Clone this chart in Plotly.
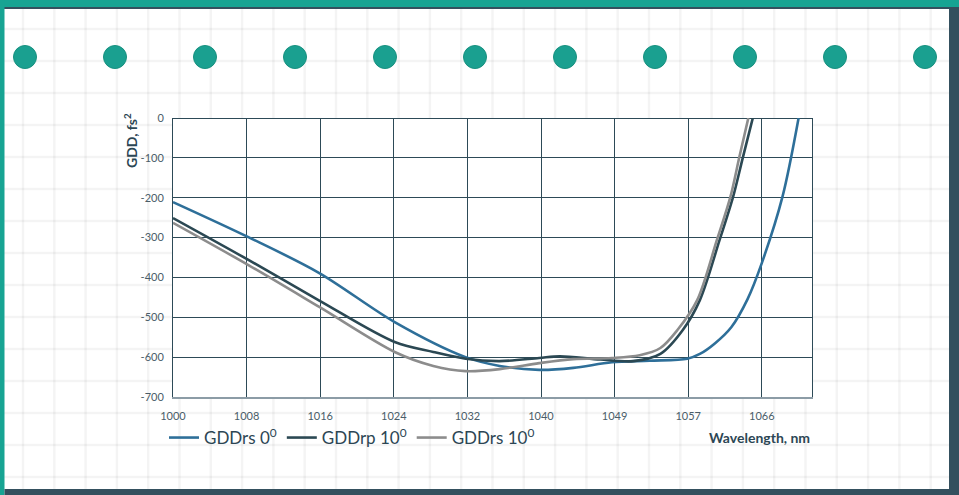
import plotly.graph_objects as go

# GDD curves, wavelength in nm vs GDD in fs^2
wl_rs0 = [1000.0, 1008.4, 1016.3, 1024.7, 1032.6, 1036.4, 1040.8, 1044.6, 1048.9,
          1053.1, 1057.3, 1058.7, 1060.4, 1062.2, 1064.0, 1065.6, 1067.9, 1069.7]
gdd_rs0 = [-211, -299, -389, -512, -600, -622, -632, -627, -613,
           -609, -604, -592, -565, -525, -455, -364, -198, 0]

wl_rp10 = [1000.0, 1008.4, 1016.3, 1024.7, 1029.0, 1032.6, 1036.4, 1040.8, 1043.1,
           1047.6, 1051.3, 1054.3, 1056.8, 1058.7, 1060.9, 1062.4, 1063.5, 1064.6]
gdd_rp10 = [-251, -356, -458, -562, -587, -604, -610, -602, -598,
            -606, -610, -592, -532, -457, -306, -198, -98, 0]

wl_rs10 = [1000.0, 1008.4, 1016.3, 1024.7, 1029.0, 1032.6, 1036.4, 1040.8, 1044.6,
           1048.9, 1052.0, 1054.3, 1056.2, 1058.4, 1060.6, 1062.1, 1063.1, 1064.1]
gdd_rs10 = [-263, -369, -474, -587, -622, -635, -630, -615, -605,
            -602, -595, -577, -532, -457, -306, -198, -98, 0]

series_names = ["GDDrs 0<sup>0</sup>", "GDDrp 10<sup>0</sup>", "GDDrs 10<sup>0</sup>"]
series_colors = ["#2e6f99", "#2b4853", "#8c8c8c"]

# Evenly spaced wavelength ticks with their printed labels
x_tick_step = 8.2
x_tick_labels = ["1000", "1008", "1016", "1024", "1032", "1040", "1049", "1057", "1066"]
y_tick_vals = [0, -100, -200, -300, -400, -500, -600, -700]

W, H = 959, 495
L, R, T, B = 173, 812, 118, 397  # plot area in pixels


def px(x):
    return (x - L) / (R - L)


def py(y):
    return (B - y) / (B - T)


fig = go.Figure()
for xs, ys, name, col in zip([wl_rs0, wl_rp10, wl_rs10], [gdd_rs0, gdd_rp10, gdd_rs10],
                             series_names, series_colors):
    fig.add_trace(go.Scatter(x=xs, y=ys, name=name, mode="lines",
                             line=dict(color=col, width=2.6, shape="spline", smoothing=0.9)))

shapes = []
# graph-paper backdrop
grid_paper = "rgba(0,0,0,0.045)"
gx = 23.0
while gx < W:
    shapes.append(dict(type="line", xref="paper", yref="paper", x0=px(gx), x1=px(gx),
                       y0=py(0), y1=py(H), line=dict(color=grid_paper, width=2.5),
                       layer="below"))
    gx += 31.3
gy = 29.0
while gy < H:
    shapes.append(dict(type="line", xref="paper", yref="paper", x0=px(0), x1=px(W),
                       y0=py(gy), y1=py(gy), line=dict(color=grid_paper, width=2.5),
                       layer="below"))
    gy += 32.0
# white plot area
shapes.append(dict(type="rect", xref="paper", yref="paper", x0=0, x1=1, y0=0, y1=1,
                   fillcolor="white", line=dict(width=0), layer="below"))
# frame bands
teal = "#17a493"
dark = "#34505e"
shapes += [
    dict(type="rect", xref="paper", yref="paper", x0=px(0), x1=px(W), y0=py(0), y1=py(7),
         fillcolor=teal, line=dict(width=0), layer="above"),
    dict(type="rect", xref="paper", yref="paper", x0=px(4), x1=px(W), y0=py(7), y1=py(9),
         fillcolor=dark, line=dict(width=0), layer="above"),
    dict(type="rect", xref="paper", yref="paper", x0=px(0), x1=px(4.5), y0=py(0), y1=py(H),
         fillcolor=teal, line=dict(width=0), layer="above"),
    dict(type="rect", xref="paper", yref="paper", x0=px(949), x1=px(W), y0=py(7), y1=py(H),
         fillcolor=dark, line=dict(width=0), layer="above"),
    dict(type="rect", xref="paper", yref="paper", x0=px(4.5), x1=px(W), y0=py(489), y1=py(H),
         fillcolor=dark, line=dict(width=0), layer="above"),
]
# row of dots
for cx in range(25, 940, 90):
    shapes.append(dict(type="circle", xref="paper", yref="paper",
                       x0=px(cx - 11.5), x1=px(cx + 11.5), y0=py(57 - 11.5), y1=py(57 + 11.5),
                       fillcolor="#1aa090", line=dict(color="#17907f", width=1), layer="above"))

text_col = "#4a5d69"
title_col = "#2c4654"

annotations = [
    dict(text="<b>GDD, fs<sup>2</sup></b>", xref="paper", yref="paper", x=px(130), y=py(141),
         textangle=-90, showarrow=False, xanchor="center", yanchor="middle",
         font=dict(family="Lato", size=14, color=title_col)),
    dict(text="<b>Wavelength, nm</b>", xref="paper", yref="paper", x=1.0, y=py(437),
         showarrow=False, xanchor="right", yanchor="middle",
         font=dict(family="Lato", size=14, color=title_col)),
]

grid_col = "#2d4a57"
fig.update_layout(
    width=W, height=H,
    margin=dict(l=L, r=W - R, t=T, b=H - B, pad=0),
    paper_bgcolor="white", plot_bgcolor="rgba(0,0,0,0)",
    font=dict(family="Lato", color=text_col),
    shapes=shapes, annotations=annotations,
    showlegend=True,
    legend=dict(orientation="h", x=px(164), y=py(438), xanchor="left", yanchor="middle",
                bgcolor="rgba(0,0,0,0)", font=dict(family="Lato", size=17, color=title_col),
                itemwidth=30, traceorder="normal"),
    xaxis=dict(range=[1000, 1000 + x_tick_step * (R - L) / 73.6],
               tickvals=[1000 + x_tick_step * i for i in range(len(x_tick_labels))],
               ticktext=x_tick_labels, showgrid=True, gridcolor=grid_col, gridwidth=1,
               showline=True, linecolor="#8c9ca6", linewidth=2, mirror=False,
               zeroline=False, ticks="", ticklabelstandoff=8,
               tickfont=dict(family="Lato", size=11, color=text_col)),
    yaxis=dict(range=[-700, 0], tickvals=y_tick_vals,
               ticktext=[str(v) for v in y_tick_vals],
               showgrid=True, gridcolor=grid_col, gridwidth=1,
               showline=True, linecolor=grid_col, linewidth=1, mirror=True,
               zeroline=True, zerolinecolor=grid_col, zerolinewidth=1,
               ticks="", ticklabelstandoff=6,
               tickfont=dict(family="Lato", size=11, color=text_col)),
)

fig.write_html("out.html")
